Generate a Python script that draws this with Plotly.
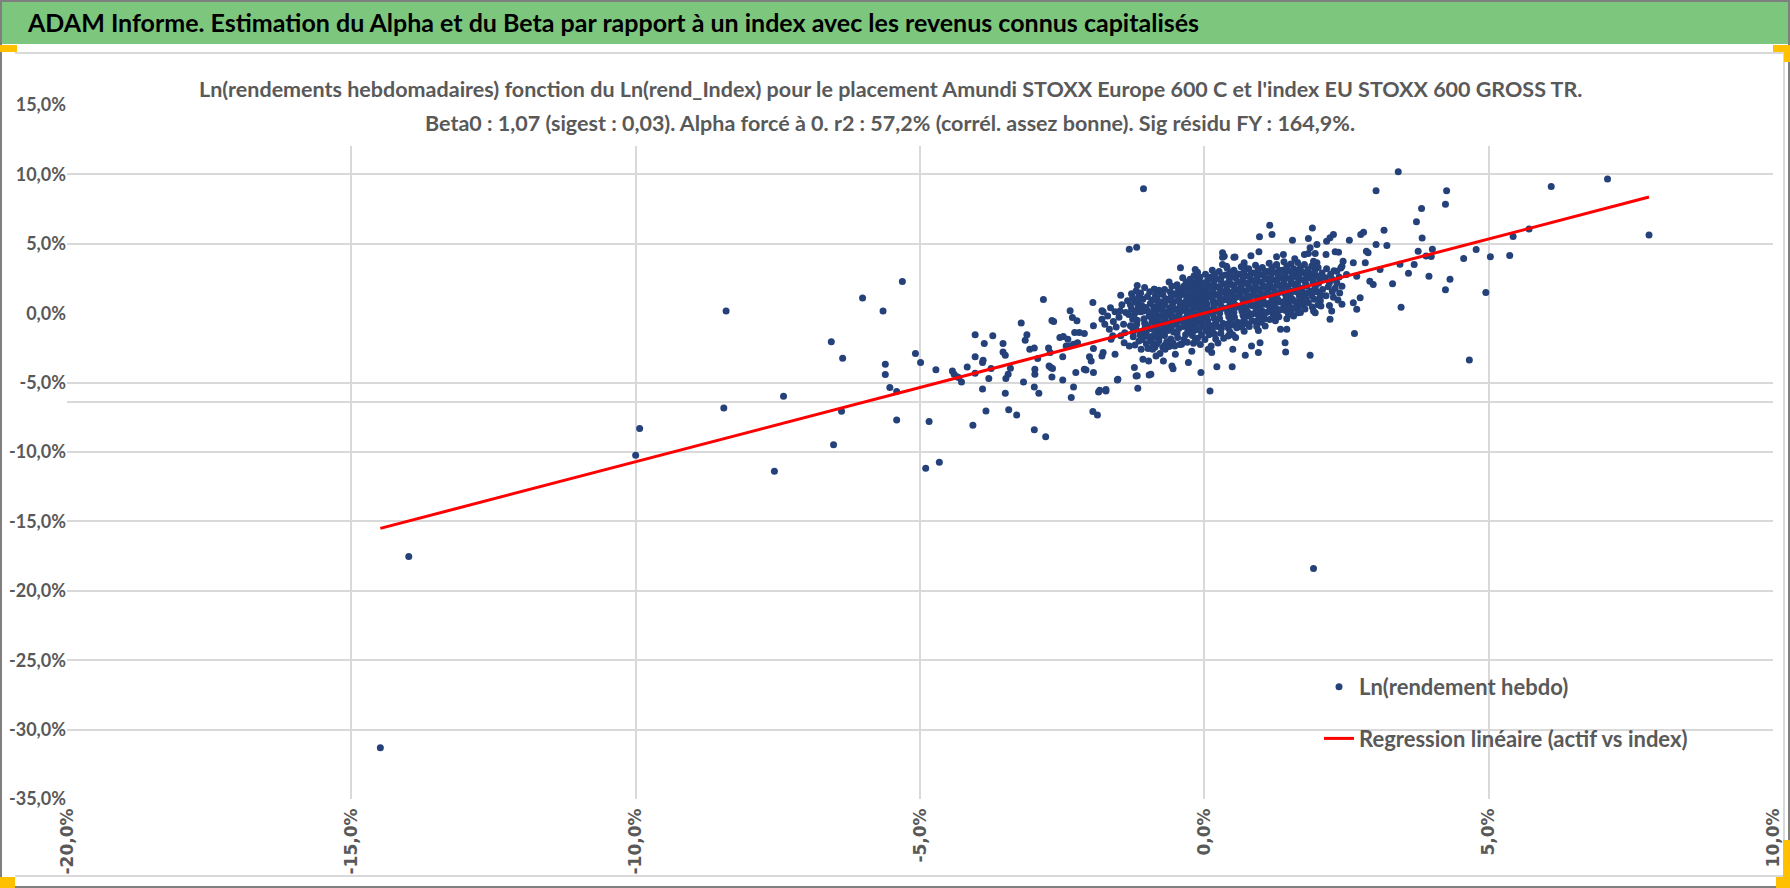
"""ADAM report chart: weekly log returns of a fund against its index, with the beta line."""

import numpy as np
import plotly.graph_objects as go

# ---- data (percent) ----
BANNER = ("ADAM Informe. Estimation du Alpha et du Beta par rapport à un index "
          "avec les revenus connus capitalisés")
TITLE_1 = ("Ln(rendements hebdomadaires) fonction du Ln(rend_Index) pour le placement "
           "Amundi STOXX Europe 600 C et l'index EU STOXX 600 GROSS TR.")
TITLE_2 = ("Beta0 : 1,07 (sigest : 0,03). Alpha forcé à 0. r2 : 57,2% (corrél. assez bonne). "
           "Sig résidu FY : 164,9%.")
SERIES_POINTS = "Ln(rendement hebdo)"
SERIES_LINE = "Regression linéaire (actif vs index)"

BETA = 1.07

x_tick_vals = [-20, -15, -10, -5, 0, 5, 10]
x_tick_text = ["-20,0%", "-15,0%", "-10,0%", "-5,0%", "0,0%", "5,0%", "10,0%"]
y_tick_vals = [-35, -30, -25, -20, -15, -10, -5, 0, 5, 10, 15]
y_tick_text = ["-35,0%", "-30,0%", "-25,0%", "-20,0%", "-15,0%", "-10,0%",
               "-5,0%", "0,0%", "5,0%", "10,0%", "15,0%"]
# horizontal lines visible in the picture (no line at 0, an extra one near -6,4)
y_grid_vals = [-35, -30, -25, -20, -15, -10, -6.4, -5, 5, 10, 15]

# (index, asset) pairs
left_tail = [
    (-14.49, -31.30), (-13.99, -17.53), (-10.00, -10.23), (-9.93, -8.30), (-8.41, 0.16),
    (-8.45, -6.83), (-7.56, -11.39), (-7.40, -5.99), (-6.56, -2.06), (-6.36, -3.24),
    (-6.52, -9.48), (-6.38, -7.07), (-6.01, 1.10), (-5.65, 0.16), (-5.31, 2.28),
    (-5.61, -3.67), (-5.61, -4.42), (-5.53, -5.36), (-5.41, -5.65), (-5.41, -7.70),
    (-5.08, -2.90), (-4.99, -3.55), (-4.72, -4.08), (-4.84, -7.80), (-4.90, -11.17),
    (-4.66, -10.73), (-4.43, -4.16), (-4.35, -4.57), (-4.40, -4.40), (-4.32, -4.64),
]

mid_left = [
    (-4.27, -4.95), (-4.17, -3.87), (-4.03, -1.56), (-4.03, -3.13), (-4.03, -4.33),
    (-3.90, -3.56), (-3.89, -3.39), (-3.87, -2.19), (-3.90, -5.46), (-3.84, -7.04),
    (-3.79, -4.71), (-3.75, -3.99), (-3.72, -1.63), (-3.54, -2.19), (-3.54, -2.79),
    (-3.50, -3.03), (-3.50, -5.77), (-3.49, -4.71), (-3.45, -4.40), (-3.41, -3.97),
    (-3.44, -6.95), (-3.30, -7.33), (-3.22, -0.70), (-3.18, -4.95), (-3.15, -1.94),
    (-3.12, -1.56), (-3.07, -2.60), (-2.99, -2.50), (-2.98, -4.04), (-2.98, -4.40),
    (-2.99, -5.31), (-2.91, -5.77), (-2.93, -3.27), (-2.83, 0.99), (-2.74, -2.50),
    (-2.71, -2.84), (-2.68, -0.53), (-2.65, -0.60), (-2.73, -3.80), (-2.70, -3.92),
    (-2.67, -3.99), (-2.68, -4.59), (-2.49, -4.81), (-2.54, -1.75), (-2.48, -1.68),
    (-2.40, -1.87), (-2.43, -2.36), (-2.49, -3.13), (-2.36, 0.17), (-2.32, -0.31),
    (-2.24, -0.55), (-2.34, -6.08), (-2.30, -5.31), (-2.26, -4.28), (-2.28, -1.39),
    (-2.20, -1.39), (-2.11, -1.47), (-2.37, -2.36), (-2.30, -2.24), (-2.23, -2.12),
    (-2.11, -4.04), (-2.08, -4.09), (-2.02, -3.13), (-1.99, -3.44), (-1.96, 0.77),
    (-1.95, -0.91), (-1.95, -2.55), (-1.95, -4.28), (-1.96, -7.09), (-1.88, -7.33),
    (-1.86, -5.67), (-1.73, -5.60), (-4.07, -8.08), (-2.99, -8.40), (-2.79, -8.90),
    (-1.17, -5.40), (-1.52, -4.75), (-1.73, -5.50), (-1.84, -5.55), (-1.18, -4.50),
    (-0.94, -4.40), (-1.07, 8.96), (-1.32, 4.61), (-1.19, 4.75), (0.10, -5.60),
    (1.92, -18.40),
]

near_left = [
    (-1.80, 0.17), (-1.78, 0.10), (-1.80, -0.43), (-1.75, -0.79), (-1.78, -2.84),
    (-1.80, -3.08), (-1.67, -1.15), (-1.61, -1.63), (-1.64, -1.87), (-1.57, 0.10),
    (-1.48, 0.17), (-1.47, 1.30), (-1.38, 0.05), (-1.57, -2.96), (-1.53, -4.81),
    (-1.47, -1.63), (-1.41, -2.12), (-1.32, -2.36), (-1.26, -0.43), (-1.20, -1.15),
    (-1.17, 0.65), (-1.15, 1.25), (-1.23, -3.92), (-1.20, -4.52), (-1.11, -2.60),
    (-1.08, -3.32), (-1.03, 0.41), (-1.00, -0.91), (-0.97, -1.75), (-0.98, -3.44),
    (-0.97, -4.45), (-0.88, 1.73), (-0.86, 1.25), (-0.91, -2.60), (-0.85, -3.08),
    (-1.70, -0.20), (-1.65, 0.40), (-1.60, -0.60), (-1.55, -1.00), (-1.50, -0.30),
    (-1.45, 0.60), (-1.42, -0.80), (-1.40, -1.40), (-1.35, 0.90), (-1.33, -0.10),
    (-1.30, -0.90), (-1.28, 0.30), (-1.25, -1.70), (-1.22, 0.80), (-1.18, -0.50),
    (-1.15, -2.00), (-1.12, 0.10), (-1.10, -1.30), (-1.08, 1.00), (-1.05, -0.70),
    (-1.02, -2.20), (-1.00, 0.20), (-0.98, -1.10), (-0.95, 0.70), (-0.93, -0.30),
    (-0.90, -1.60), (-0.88, 0.40), (-0.85, -0.90), (-0.83, 1.00), (-0.80, -2.00),
    (-1.28, 1.40), (-1.20, 1.60), (-1.12, 1.45), (-1.05, 1.85), (-0.96, 1.55),
    (-1.24, -0.20), (-1.16, 0.35), (-1.06, -0.40), (-0.97, -0.20), (-1.27, -1.00),
    (-1.13, -1.55), (-1.02, -1.40), (-0.94, -1.10), (-1.22, -2.30), (-1.09, -1.90),
    (-0.99, -2.55), (-1.30, 0.60), (-1.10, 0.55), (-0.92, 0.95), (-1.18, 2.00),
    (-1.26, 1.10), (-1.14, 1.05), (-1.00, 1.20), (-1.21, 0.05), (-1.07, 0.15),
    (-0.95, 0.00), (-1.19, -0.80), (-1.04, -1.00), (-0.92, -0.60), (-1.07, -1.65),
    (-0.93, -2.00), (-1.25, -1.35),
]

core = [
    (-0.88, 1.72), (-0.80, 1.65), (-0.70, 1.70), (-0.86, 0.95), (-0.76, 0.80),
    (-0.68, 1.05), (-0.89, 0.45), (-0.79, 0.30), (-0.71, 0.55), (-0.84, -0.05),
    (-0.74, -0.20), (-0.66, 0.05), (-0.88, -0.60), (-0.78, -0.75), (-0.69, -0.50),
    (-0.85, -1.15), (-0.75, -1.30), (-0.67, -1.05), (-0.89, -1.70), (-0.80, -1.85),
    (-0.70, -1.60), (-0.83, -2.20), (-0.73, -2.45), (-0.66, -2.05), (-0.78, -2.90),
    (-0.62, 2.25), (-0.48, 2.05), (-0.60, 1.55), (-0.52, 1.40), (-0.43, 1.65),
    (-0.64, 0.95), (-0.55, 0.85), (-0.45, 1.05), (-0.61, 0.40), (-0.50, 0.30),
    (-0.42, 0.55), (-0.63, -0.15), (-0.53, -0.25), (-0.44, -0.05), (-0.60, -0.70),
    (-0.49, -0.80), (-0.41, -0.55), (-0.64, -1.25), (-0.54, -1.35), (-0.45, -1.10),
    (-0.59, -1.85), (-0.47, -1.75), (-0.62, -2.40), (-0.51, -2.95),
    (-0.38, 2.55), (-0.25, 2.45), (-0.18, 2.70), (-0.36, 1.95), (-0.27, 1.85),
    (-0.17, 2.05), (-0.39, 1.35), (-0.29, 1.25), (-0.19, 1.45), (-0.35, 0.75),
    (-0.24, 0.70), (-0.16, 0.90), (-0.38, 0.20), (-0.28, 0.10), (-0.18, 0.30),
    (-0.34, -0.40), (-0.23, -0.45), (-0.15, -0.25), (-0.37, -0.95), (-0.26, -1.05),
    (-0.17, -0.85), (-0.33, -1.55), (-0.21, -1.60), (-0.30, -2.10), (-0.22, -2.75),
    (-0.12, 2.95), (0.02, 2.80), (-0.13, 2.30), (-0.04, 2.20), (0.06, 2.40),
    (-0.14, 1.70), (-0.05, 1.60), (0.04, 1.80), (-0.11, 1.10), (-0.02, 1.00),
    (0.08, 1.20), (-0.13, 0.50), (-0.03, 0.45), (0.05, 0.65), (-0.10, -0.10),
    (0.00, -0.05), (0.09, 0.10), (-0.14, -0.65), (-0.04, -0.70), (0.06, -0.55),
    (-0.09, -1.20), (0.03, -1.25), (-0.12, -1.80), (0.01, -1.90), (0.07, -2.60),
    (0.14, 3.10), (0.26, 3.00), (0.12, 2.60), (0.21, 2.50), (0.31, 2.70),
    (0.15, 2.00), (0.24, 1.90), (0.33, 2.10), (0.11, 1.40), (0.20, 1.35),
    (0.30, 1.50), (0.16, 0.85), (0.25, 0.75), (0.34, 0.95), (0.13, 0.25),
    (0.22, 0.20), (0.32, 0.35), (0.17, -0.35), (0.27, -0.40), (0.12, -0.90),
    (0.23, -0.95), (0.33, -0.75), (0.18, -1.50), (0.29, -1.45), (0.24, -2.15),
    (0.40, 3.25), (0.52, 3.10), (0.37, 2.75), (0.47, 2.65), (0.57, 2.85),
    (0.41, 2.15), (0.50, 2.05), (0.59, 2.25), (0.36, 1.55), (0.46, 1.50),
    (0.55, 1.65), (0.42, 0.95), (0.51, 0.90), (0.38, 0.35), (0.48, 0.30),
    (0.58, 0.45), (0.43, -0.25), (0.53, -0.30), (0.39, -0.80), (0.49, -0.85),
    (0.58, -0.65), (0.45, -1.35), (0.55, -1.75),
    (0.65, 3.35), (0.78, 3.20), (0.62, 2.80), (0.72, 2.70), (0.82, 2.90),
    (0.66, 2.25), (0.75, 2.15), (0.84, 2.35), (0.61, 1.65), (0.71, 1.60),
    (0.80, 1.75), (0.67, 1.05), (0.76, 1.00), (0.63, 0.45), (0.73, 0.40),
    (0.83, 0.55), (0.68, -0.15), (0.78, -0.20), (0.64, -0.70), (0.74, -0.75),
    (0.84, -0.55), (0.70, -1.30),
    (0.90, 3.45), (1.02, 3.30), (0.87, 2.90), (0.97, 2.80), (1.07, 3.00),
    (0.91, 2.35), (1.00, 2.25), (1.09, 2.45), (0.86, 1.75), (0.96, 1.70),
    (1.05, 1.85), (0.92, 1.15), (1.01, 1.10), (0.88, 0.55), (0.98, 0.50),
    (1.08, 0.65), (0.93, -0.05), (1.03, -0.10), (0.89, -0.60), (1.00, -0.65),
    (0.95, -1.25),
    (1.14, 3.60), (1.27, 3.45), (1.12, 3.00), (1.22, 2.95), (1.32, 3.10),
    (1.16, 2.45), (1.25, 2.40), (1.34, 2.55), (1.11, 1.90), (1.21, 1.85),
    (1.30, 2.00), (1.17, 1.30), (1.26, 1.25), (1.13, 0.70), (1.23, 0.65),
    (1.33, 0.80), (1.18, 0.10), (1.28, 0.05), (1.15, -0.45), (1.25, -0.55),
    (1.40, 3.70), (1.52, 3.55), (1.37, 3.10), (1.47, 3.05), (1.57, 3.20),
    (1.41, 2.55), (1.50, 2.50), (1.59, 2.65), (1.36, 2.00), (1.46, 1.95),
    (1.55, 2.10), (1.42, 1.40), (1.51, 1.35), (1.38, 0.80), (1.48, 0.75),
    (1.58, 0.90), (1.43, 0.20), (1.53, 0.15), (1.45, -0.40),
    (1.64, 3.65), (1.76, 3.50), (1.62, 3.05), (1.72, 2.95), (1.82, 3.15),
    (1.66, 2.45), (1.75, 2.40), (1.84, 2.55), (1.61, 1.85), (1.71, 1.80),
    (1.80, 1.95), (1.67, 1.25), (1.76, 1.20), (1.63, 0.65), (1.73, 0.60),
    (1.83, 0.75), (1.69, 0.05),
    (1.89, 3.40), (2.00, 3.30), (1.87, 2.80), (1.97, 2.70), (2.07, 2.90),
    (1.91, 2.20), (2.01, 2.15), (1.88, 1.60), (1.98, 1.55), (2.08, 1.70),
    (1.93, 1.00), (2.04, 0.90), (1.90, 0.45),
    (2.15, 3.20), (2.28, 3.05), (2.40, 3.25), (2.13, 2.55), (2.25, 2.45),
    (2.37, 2.60), (2.18, 1.90), (2.30, 1.80), (2.42, 1.95), (2.14, 1.25),
    (2.27, 1.15), (2.35, 0.95), (2.20, 0.55),
]

core_fill = [
    (-0.83, 1.30), (-0.73, 1.35), (-0.81, 0.62), (-0.69, 0.78), (-0.86, 0.15),
    (-0.72, 0.12), (-0.81, -0.40), (-0.70, -0.30), (-0.83, -0.95), (-0.72, -0.95),
    (-0.86, -1.45), (-0.77, -1.50), (-0.87, -2.45), (-0.69, -2.30),
    (-0.57, 1.95), (-0.46, 1.80), (-0.58, 1.20), (-0.47, 1.25), (-0.56, 0.60),
    (-0.44, 0.80), (-0.58, 0.05), (-0.46, 0.15), (-0.57, -0.45), (-0.45, -0.30),
    (-0.58, -1.00), (-0.48, -1.45), (-0.55, -2.15), (-0.43, -2.25),
    (-0.32, 2.25), (-0.21, 2.20), (-0.33, 1.60), (-0.22, 1.65), (-0.31, 1.00),
    (-0.20, 1.10), (-0.32, 0.45), (-0.21, 0.50), (-0.30, -0.15), (-0.19, -0.05),
    (-0.31, -0.70), (-0.20, -0.65), (-0.29, -1.30), (-0.18, -1.25), (-0.36, -1.90),
    (-0.16, -2.00),
    (-0.08, 2.60), (0.05, 2.10), (-0.09, 1.95), (0.00, 2.00), (-0.08, 1.35),
    (0.02, 1.40), (-0.07, 0.75), (0.03, 0.80), (-0.07, 0.20), (0.04, 0.25),
    (-0.06, -0.40), (0.04, -0.30), (-0.05, -0.95), (0.07, -0.90), (-0.05, -1.55),
    (0.08, -1.55), (-0.07, -2.25),
    (0.18, 2.80), (0.29, 2.35), (0.17, 2.30), (0.28, 1.70), (0.15, 1.65),
    (0.27, 1.10), (0.14, 1.10), (0.29, 0.55), (0.17, 0.55), (0.27, 0.00),
    (0.15, -0.05), (0.20, -0.65), (0.30, -1.10), (0.14, -1.25), (0.34, -1.80),
    (0.20, -1.85),
    (0.45, 2.95), (0.55, 2.55), (0.44, 2.40), (0.53, 1.85), (0.40, 1.85),
    (0.51, 1.25), (0.39, 1.20), (0.56, 1.15), (0.45, 0.60), (0.54, 0.60),
    (0.41, 0.05), (0.52, 0.05), (0.46, -0.55), (0.57, -1.05), (0.42, -1.05),
    (0.50, -1.55),
    (0.70, 3.05), (0.80, 2.60), (0.68, 2.50), (0.78, 1.95), (0.65, 1.95),
    (0.75, 1.30), (0.63, 1.35), (0.82, 1.25), (0.69, 0.75), (0.80, 0.80),
    (0.66, 0.15), (0.76, 0.10), (0.84, -0.05), (0.70, -0.45), (0.79, -0.95),
    (0.66, -1.00),
    (0.95, 3.15), (1.05, 2.70), (0.93, 2.60), (1.03, 2.00), (0.90, 2.05),
    (1.00, 1.40), (0.88, 1.45), (1.07, 1.35), (0.94, 0.85), (1.04, 0.85),
    (0.91, 0.25), (1.01, 0.20), (1.09, 0.05), (0.96, -0.35), (1.06, -0.40),
    (0.92, -0.95),
    (1.19, 3.30), (1.30, 2.75), (1.17, 2.70), (1.28, 2.15), (1.15, 2.15),
    (1.24, 1.55), (1.12, 1.60), (1.32, 1.50), (1.19, 1.00), (1.29, 1.00),
    (1.15, 0.40), (1.26, 0.35), (1.34, 0.25), (1.21, -0.20), (1.31, -0.25),
    (1.45, 3.40), (1.55, 2.85), (1.42, 2.80), (1.53, 2.25), (1.40, 2.25),
    (1.49, 1.65), (1.37, 1.70), (1.57, 1.60), (1.44, 1.10), (1.54, 1.05),
    (1.40, 0.50), (1.51, 0.45), (1.59, 0.40), (1.48, -0.10),
    (1.69, 3.30), (1.79, 2.80), (1.67, 2.75), (1.78, 2.15), (1.64, 2.15),
    (1.73, 1.50), (1.62, 1.55), (1.82, 1.45), (1.69, 0.95), (1.79, 1.00),
    (1.65, 0.35), (1.77, 0.30),
    (1.94, 3.05), (2.04, 2.45), (1.92, 2.50), (2.05, 1.30), (1.95, 1.85),
    (1.89, 1.25), (2.00, 0.60),
    (2.22, 2.80), (2.33, 2.20), (2.20, 2.20), (2.38, 1.45), (2.25, 1.55),
]

near_right = [
    (1.15, 6.34), (1.19, 5.67), (0.97, 5.50), (1.90, 6.13), (1.55, 5.26),
    (1.83, 5.38), (1.98, 4.95), (1.86, 4.71), (2.15, 5.19), (2.21, 5.43),
    (2.27, 5.67), (2.55, 5.26), (2.75, 5.67), (2.80, 5.84), (3.02, 4.95),
    (2.85, 4.47), (2.88, 4.35), (-0.42, 3.27), (-0.16, 3.15), (0.32, 4.35),
    (0.35, 4.11), (0.54, 4.04), (0.32, 3.51), (0.39, 3.39), (0.82, 4.14),
    (0.96, 4.42), (0.70, 3.63), (0.70, 3.39), (1.27, 4.06), (1.39, 4.23),
    (1.27, 3.51), (1.59, 3.92), (1.76, 4.23), (1.83, 4.30), (1.95, 4.30),
    (1.98, 3.63), (1.92, 3.75), (2.30, 4.42), (2.36, 4.40), (2.14, 4.23),
    (2.44, 3.75), (2.42, 3.39), (2.62, 3.63), (2.83, 3.63), (2.33, 3.03),
    (2.50, 2.79), (2.68, 2.67), (2.91, 2.31), (2.97, 2.07), (2.74, 1.12),
    (2.62, 0.76), (2.68, 0.28), (2.42, 0.64), (2.24, 0.16), (2.21, -0.44),
    (2.64, -1.47), (1.86, -3.03), (1.42, -2.12), (1.43, -2.79), (2.03, 1.12),
    (2.05, 0.52), (1.92, 0.16), (1.95, 0.04), (1.57, -0.20), (1.65, 0.04),
    (1.45, -1.16), (1.34, -1.16), (1.07, -0.92), (0.98, -2.12), (0.95, -2.84),
    (0.83, -2.36), (0.72, -3.03), (0.50, -2.60), (0.49, -3.85), (0.22, -3.85),
    (0.13, -2.84), (0.12, -2.36), (0.42, -1.64), (-0.06, -4.28), (-0.28, -3.56),
    (-0.57, -3.80), (-0.72, -3.44), (-0.52, -2.36), (-0.40, -2.24), (-0.19, -2.17),
    (-0.69, -2.60), (-0.90, -2.36), (-0.55, -4.00), (0.32, 4.03), (0.52, 4.03),
]

right_tail = [
    (3.41, 10.19), (3.02, 8.82), (4.26, 8.82), (4.24, 7.85), (3.82, 7.54),
    (6.10, 9.13), (7.09, 9.66), (7.82, 5.63), (5.71, 6.06), (5.43, 5.53),
    (4.78, 4.59), (5.03, 4.06), (5.37, 4.15), (4.56, 3.94), (4.95, 1.50),
    (4.32, 2.44), (4.24, 1.69), (4.66, -3.38), (3.46, 0.43), (3.95, 2.66),
    (3.69, 3.50), (3.59, 2.87), (3.31, 2.13), (3.44, 3.53), (3.83, 5.41),
    (3.73, 6.59), (4.01, 4.61), (3.90, 4.13), (3.99, 4.08), (3.76, 4.47),
    (3.16, 5.97), (3.21, 4.88), (3.09, 3.14),
]

# ---- layout constants (pixels) ----
W, H = 1790, 888
M_L, M_R, M_T, M_B = 67, 17, 105, 89
PW, PH = W - M_L - M_R, H - M_T - M_B

FONT_TEXT = "Lato, Roboto, sans-serif"
FONT_WIDE = "DejaVu Sans, Verdana, sans-serif"
TEXT_GREY = "#595959"
GRID_GREY = "#D9D9D9"
DOT_BLUE = "#25417A"
ORANGE = "#FFC000"


def px(x):
    """Figure pixel x -> paper x."""
    return (x - M_L) / PW


def py(y):
    """Figure pixel y (from top) -> paper y."""
    return (H - M_B - y) / PH


points = left_tail + mid_left + near_left + core + core_fill + near_right + right_tail
index_ln = np.array([p[0] for p in points])
asset_ln = np.array([p[1] for p in points])

line_x = np.array([index_ln.min(), index_ln.max()])
line_y = BETA * line_x

fig = go.Figure()
fig.add_trace(go.Scatter(
    x=index_ln, y=asset_ln, mode="markers", name=SERIES_POINTS,
    marker=dict(color=DOT_BLUE, size=7, line=dict(width=0)),
    legendgroup="pts", showlegend=True,
))
fig.add_trace(go.Scatter(
    x=line_x, y=line_y, mode="lines", name=SERIES_LINE, yaxis="y2",
    line=dict(color="#FF0000", width=3),
    legendgroup="reg", showlegend=True,
))

fig.update_layout(
    width=W, height=H,
    margin=dict(l=M_L, r=M_R, t=M_T, b=M_B, pad=0),
    paper_bgcolor="white", plot_bgcolor="white",
    xaxis=dict(
        range=[-20, 10], tickvals=x_tick_vals, ticktext=x_tick_text,
        tickangle=-90, showgrid=True, gridcolor=GRID_GREY, gridwidth=1.5,
        zeroline=False, showline=False, ticks="", ticklabelstandoff=5,
        automargin=False,
        tickfont=dict(family=FONT_WIDE, size=17, color=TEXT_GREY, weight="bold"),
    ),
    yaxis=dict(
        range=[-35, 15], tickvals=y_grid_vals, showticklabels=False,
        showgrid=True, gridcolor=GRID_GREY, gridwidth=1.5,
        zeroline=False, showline=False, ticks="", automargin=False,
    ),
    yaxis2=dict(
        range=[-35, 15], overlaying="y", side="left",
        tickvals=y_tick_vals, ticktext=y_tick_text, showgrid=False,
        zeroline=False, showline=False, ticks="", automargin=False,
        tickfont=dict(family=FONT_TEXT, size=18, color=TEXT_GREY, weight="bold"),
    ),
    legend=dict(
        x=px(1319), y=py(666), xanchor="left", yanchor="top",
        bgcolor="rgba(0,0,0,0)", borderwidth=0, tracegroupgap=20,
        font=dict(family=FONT_TEXT, size=22, color=TEXT_GREY, weight="bold"),
    ),
    showlegend=True,
)

shapes = [
    # white box behind the chart title
    dict(type="rect", xref="paper", yref="paper", layer="above",
         x0=px(200), x1=px(1585), y0=py(56), y1=py(146),
         fillcolor="white", line=dict(width=0)),
    # green banner
    dict(type="rect", xref="paper", yref="paper", layer="above",
         x0=px(0), x1=px(W), y0=py(0), y1=py(44),
         fillcolor="#7DC67D", line=dict(width=0)),
    # thin frame lines of the chart box
    dict(type="line", xref="paper", yref="paper", layer="above",
         x0=px(15), x1=px(1786), y0=py(53), y1=py(53),
         line=dict(color=GRID_GREY, width=2)),
    dict(type="line", xref="paper", yref="paper", layer="above",
         x0=px(15), x1=px(1786), y0=py(876), y1=py(876),
         line=dict(color=GRID_GREY, width=2)),
    dict(type="line", xref="paper", yref="paper", layer="above",
         x0=px(1784), x1=px(1784), y0=py(53), y1=py(876),
         line=dict(color=GRID_GREY, width=2)),
    # outer border
    dict(type="rect", xref="paper", yref="paper", layer="above",
         x0=px(1), x1=px(W - 1), y0=py(1), y1=py(H - 1),
         line=dict(color="#7F7F7F", width=2)),
    # orange selection handles
    dict(type="rect", xref="paper", yref="paper", layer="above",
         x0=px(0), x1=px(17), y0=py(45), y1=py(52),
         fillcolor=ORANGE, line=dict(width=0)),
    dict(type="rect", xref="paper", yref="paper", layer="above",
         x0=px(1773), x1=px(W), y0=py(45), y1=py(52),
         fillcolor=ORANGE, line=dict(width=0)),
    dict(type="rect", xref="paper", yref="paper", layer="above",
         x0=px(1784), x1=px(W), y0=py(45), y1=py(62),
         fillcolor=ORANGE, line=dict(width=0)),
    dict(type="rect", xref="paper", yref="paper", layer="above",
         x0=px(0), x1=px(15), y0=py(877), y1=py(H),
         fillcolor=ORANGE, line=dict(width=0)),
    dict(type="rect", xref="paper", yref="paper", layer="above",
         x0=px(1776), x1=px(W), y0=py(877), y1=py(H),
         fillcolor=ORANGE, line=dict(width=0)),
    dict(type="rect", xref="paper", yref="paper", layer="above",
         x0=px(1783), x1=px(W), y0=py(840), y1=py(H),
         fillcolor=ORANGE, line=dict(width=0)),
]
fig.update_layout(shapes=shapes)

fig.add_annotation(
    text=BANNER, xref="paper", yref="paper", x=px(25), y=py(22),
    xanchor="left", yanchor="middle", showarrow=False,
    font=dict(family=FONT_TEXT, size=25, color="black", weight="bold"),
)
for text, ypix in ((TITLE_1, 89), (TITLE_2, 123)):
    fig.add_annotation(
        text=text, xref="paper", yref="paper", x=px(890), y=py(ypix),
        xanchor="center", yanchor="middle", showarrow=False,
        font=dict(family=FONT_TEXT, size=21.5, color=TEXT_GREY, weight="bold"),
    )

fig.write_html("out.html", config={"displayModeBar": False},
               post_script="document.body.style.margin='0';")
